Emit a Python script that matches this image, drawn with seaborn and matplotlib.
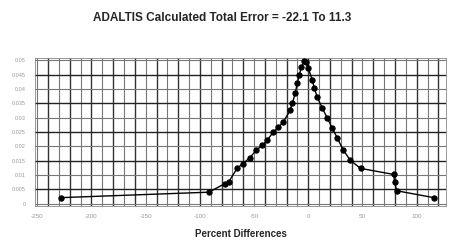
import matplotlib
matplotlib.use("Agg")
import matplotlib.pyplot as plt
import seaborn as sns
import numpy as np
import pandas as pd

title = "ADALTIS Calculated Total Error = -22.1 To 11.3"
x_label = "Percent Differences"

pct_diff = [-228, -91.7, -76.9, -73.2, -65.7, -60.2, -53.7, -48.2, -42.6, -38.0,
            -32.4, -27.8, -23.2, -16.7, -14.8, -12.0, -10.2, -8.3, -6.5, -3.7,
            -1.9, 0.0, 3.7, 5.6, 8.3, 13.0, 17.6, 22.2, 26.9, 32.4,
            38.9, 48.2, 78.7, 79.6, 81.5, 115.8]
density = [0.0021, 0.0040, 0.0070, 0.0077, 0.0123, 0.0140, 0.0161, 0.0186, 0.0203, 0.0221,
           0.0249, 0.0266, 0.0284, 0.0326, 0.0350, 0.0385, 0.0420, 0.0448, 0.0476, 0.0497,
           0.0494, 0.0473, 0.0431, 0.0403, 0.0371, 0.0333, 0.0298, 0.0263, 0.0228, 0.0186,
           0.0151, 0.0123, 0.0102, 0.0077, 0.0045, 0.0021]

x_ticks = [-250, -200, -150, -100, -50, 0, 50, 100]
y_ticks = [0, 0.005, 0.01, 0.015, 0.02, 0.025, 0.03, 0.035, 0.04, 0.045, 0.05]

df = pd.DataFrame({"x": pct_diff, "y": density})

sns.set_theme(style="white")
plt.rcParams['font.family'] = ['Liberation Sans', 'DejaVu Sans']

fig = plt.figure(figsize=(4.5, 2.42), dpi=100)
ax = fig.add_axes([0.078, 0.149, 0.913, 0.611])

# grid
for xv in np.arange(-250, 130, 10):
    dark = (int(round(xv)) // 10) % 2 == 0
    ax.axvline(xv, color="#333333" if dark else "#777777", lw=1.0 if dark else 0.8, zorder=0)
for i, yv in enumerate(y_ticks):
    dark = i % 2 == 1
    ax.axhline(yv, color="#222222" if dark else "#777777", lw=1.0 if dark else 0.8, zorder=0)

sns.lineplot(data=df, x="x", y="y", ax=ax, color="black", lw=1.0, marker="o",
             markersize=3.8, markeredgecolor="black", sort=False, estimator=None, zorder=3)

ax.set_xlim(-252, 127)
ax.set_ylim(-0.0008, 0.0508)
ax.set_xticks(x_ticks)
ax.set_xticklabels([str(v) for v in x_ticks], fontsize=4.5, color="#999999")
ax.set_yticks(y_ticks)
ax.set_yticklabels([("%g" % v) for v in y_ticks], fontsize=4, color="#999999")
ax.tick_params(axis="x", length=2, pad=4, color="#777777")
ax.tick_params(axis="y", length=2, pad=5, color="#777777")
ax.set_xlabel(x_label, fontsize=7, fontweight="bold", labelpad=7)
ax.set_ylabel("")
for s in ax.spines.values():
    s.set_color("#888888")
    s.set_linewidth(0.6)

fig.text(0.493, 0.925, title, ha="center", va="center", fontsize=8.5, fontweight="bold")

fig.savefig("out.png", dpi=100)
